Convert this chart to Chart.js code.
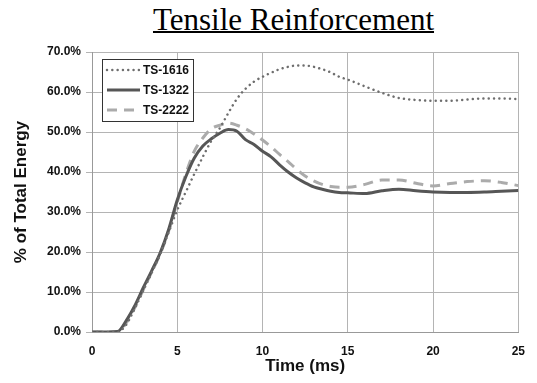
<!DOCTYPE html>
<html>
<head>
<meta charset="utf-8">
<script src="https://cdn.jsdelivr.net/npm/chart.js@4.4.0/dist/chart.umd.min.js"></script>
<style>
    html, body { margin: 0; padding: 0; background: #fff; }
    #wrap { position: relative; width: 537px; height: 383px; }
    #chart { position: absolute; left: 0; top: 0; }
    #title {
        position: absolute;
        left: 293.5px;
        top: 3.5px;
        transform: translateX(-50%);
        font-family: 'Liberation Serif', 'Times New Roman', serif;
        font-size: 31px;
        line-height: 31px;
        color: #000;
        white-space: nowrap;
        text-decoration: underline;
        text-decoration-thickness: 1.5px;
    }
</style>
</head>
<body>
<div id="wrap">
    <div id="title">Tensile Reinforcement</div>
    <canvas id="chart" width="537" height="383"></canvas>
</div>
<script>
// 시간 축 (ms)
const timeMs = [0, 1, 1.5, 2, 2.5, 3, 3.5, 4, 4.5, 5, 5.5, 6, 6.5, 7, 7.5, 8, 8.5, 9, 9.5, 10,
    10.5, 11, 11.5, 12, 12.5, 13, 13.5, 14, 14.5, 15, 16, 17, 18, 19, 20, 21, 22, 23, 24, 25];

// 시리즈 값 (% of Total Energy)
const ts1616 = [0, 0, 0, 1.8, 5.8, 10.3, 14.8, 19.5, 25.0, 30.5, 35.0, 39.5, 43.8, 47.8, 51.0, 54.8, 58.3, 60.8, 62.6, 63.8,
    64.8, 65.7, 66.3, 66.6, 66.6, 66.3, 65.7, 64.9, 63.8, 63.1, 61.4, 59.8, 58.5, 58.0, 57.8, 57.8, 58.1, 58.4, 58.4, 58.2];
const ts1322 = [0, 0, 0.1, 2.8, 6.5, 11.0, 15.3, 19.8, 25.7, 33.0, 38.8, 43.5, 46.5, 48.3, 49.7, 50.6, 50.2, 48.1, 46.9, 45.2,
    43.8, 41.8, 40.0, 38.5, 37.3, 36.3, 35.7, 35.2, 34.9, 34.8, 34.6, 35.3, 35.7, 35.3, 35.0, 34.9, 34.9, 35.0, 35.2, 35.4];
const ts2222 = [0, 0, 0, 2.2, 6.0, 10.5, 15.0, 19.5, 25.3, 32.5, 39.5, 45.2, 48.5, 50.8, 51.7, 52.2, 51.7, 50.8, 49.5, 48.0,
    46.3, 44.4, 42.6, 40.7, 39.0, 37.8, 36.9, 36.4, 36.2, 36.2, 36.9, 38.0, 38.0, 37.2, 36.5, 37.1, 37.6, 37.8, 37.4, 36.6];

// 눈금
const xTicks = [0, 5, 10, 15, 20, 25];
const yTicks = [0, 10, 20, 30, 40, 50, 60, 70];

const toPoints = (vals) => timeMs.map((t, i) => ({ x: t, y: vals[i] }));

const font = 'Liberation Sans, Arial, sans-serif';
const gridColor = '#b4b4b4';

// 범례 (차트 영역 안, 테두리 포함)
const insideLegend = {
    id: 'insideLegend',
    afterDraw(chart) {
        const ctx = chart.ctx;
        const ca = chart.chartArea;
        const boxL = ca.left + 10;
        const boxT = ca.top + 7;
        const rowH = 20;
        const sets = chart.data.datasets;
        ctx.save();
        ctx.fillStyle = '#fff';
        ctx.fillRect(boxL, boxT, 91, 62);
        ctx.strokeStyle = '#333';
        ctx.lineWidth = 1;
        ctx.strokeRect(boxL + 0.5, boxT + 0.5, 91, 62);
        ctx.font = 'bold 12px ' + font;
        ctx.textBaseline = 'middle';
        sets.forEach((ds, i) => {
            const y = boxT + 11 + i * rowH;
            ctx.beginPath();
            ctx.strokeStyle = ds.borderColor;
            ctx.lineWidth = ds.borderWidth;
            ctx.lineCap = ds.borderCapStyle || 'butt';
            ctx.setLineDash(ds.borderDash || []);
            ctx.moveTo(boxL + 5, y);
            ctx.lineTo(boxL + 38, y);
            ctx.stroke();
            ctx.setLineDash([]);
            ctx.fillStyle = '#111';
            ctx.fillText(ds.label, boxL + 41, y + 0.5);
        });
        ctx.restore();
    }
};

new Chart(document.getElementById('chart'), {
    type: 'line',
    data: {
        datasets: [
            {
                label: 'TS-1616',
                data: toPoints(ts1616),
                borderColor: '#6e6e6e',
                borderWidth: 2.5,
                borderDash: [0.01, 5.3],
                borderCapStyle: 'round',
                pointRadius: 0,
                cubicInterpolationMode: 'monotone'
            },
            {
                label: 'TS-1322',
                data: toPoints(ts1322),
                borderColor: '#565656',
                borderWidth: 3,
                pointRadius: 0,
                cubicInterpolationMode: 'monotone'
            },
            {
                label: 'TS-2222',
                data: toPoints(ts2222),
                borderColor: '#ababab',
                borderWidth: 3,
                borderDash: [10, 7],
                pointRadius: 0,
                cubicInterpolationMode: 'monotone'
            }
        ]
    },
    options: {
        responsive: false,
        animation: false,
        devicePixelRatio: 1,
        layout: { padding: { top: 52, right: 18, left: 0, bottom: 0 } },
        plugins: {
            title: { display: false },
            tooltip: { enabled: false },
            legend: { display: false }
        },
        scales: {
            x: {
                type: 'linear',
                min: 0,
                max: 25,
                afterFit: (s) => { s.height = 51; },
                afterBuildTicks: (s) => { s.ticks = xTicks.map(v => ({ value: v })); },
                grid: { color: gridColor, drawTicks: false },
                border: { color: '#999' },
                ticks: {
                    padding: 12,
                    color: '#111',
                    maxRotation: 0,
                    font: { family: font, size: 12, weight: 'bold' }
                },
                title: {
                    display: true,
                    text: 'Time (ms)',
                    color: '#111',
                    padding: { top: 0, bottom: 6 },
                    font: { family: font, size: 17, weight: 'bold' }
                }
            },
            y: {
                min: 0,
                max: 70,
                afterFit: (s) => { s.width = 92; },
                afterBuildTicks: (s) => { s.ticks = yTicks.map(v => ({ value: v })); },
                grid: { color: gridColor, tickLength: 6 },
                border: { color: '#999' },
                ticks: {
                    padding: 5,
                    color: '#111',
                    font: { family: font, size: 12, weight: 'bold' },
                    callback: (v) => v.toFixed(1) + '%'
                },
                title: {
                    display: true,
                    text: '% of Total Energy',
                    color: '#111',
                    padding: { top: 11, bottom: 0 },
                    font: { family: font, size: 17, weight: 'bold' }
                }
            }
        }
    },
    plugins: [insideLegend]
});
</script>
</body>
</html>
